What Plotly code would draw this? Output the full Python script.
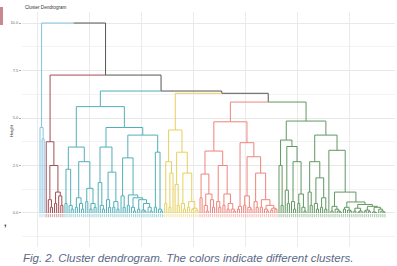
import plotly.graph_objects as go

# ---------------- data: merge structure (Newick-like, heights after ")") ----------------
cluster_keys = ["B", "R", "C", "Y", "S", "G"]
cluster_colors = {"B": "#86c3e3", "R": "#a24d55", "C": "#52afb8", "Y": "#e6d05c",
                  "S": "#ef837b", "G": "#629762", "top": "#555555"}

blue_tree = "(o,(o,o)3.9)4.5"
darkred_tree = "(o,((o,(o,o)0.3)0.7,((o,o)0.5,(o,(o,o)0.4)0.9)1.1)2.5)3.75"
cyan_left = "(((o,o)0.5,(o,(o,o)0.2)0.4)2.3,(((o,o)0.3,(o,(o,o)0.2)0.5)0.8,((o,o)0.6,((o,o)0.2,(o,o)0.3)0.5)1.3)2.7)3.47"
cyan_right = ("(((o,(o,(o,o)0.2)0.4)1.6,((o,(o,o)0.3)0.7,((o,o)0.3,(o,o)0.2)0.6)2.15)3.47,"
              "(((o,(o,o)0.3)0.9,((o,o)0.4,((o,(o,o)0.1)0.3,((o,o)0.2,((o,(o,o)0.1)0.15,(o,(o,o)0.1)0.3)0.5)0.7)0.8)0.95)2.9,"
              "((o,o)0.3,(o,(o,o)0.1)0.2)3.2)4.1)4.5")
yellow_tree = ("(((o,o)0.5,((o,o)0.3,o)2.1)2.7,"
               "((o,(o,o)0.4)1.5,((o,(o,o)0.2)0.5,((o,o)0.3,((o,o)0.2,(o,o)0.15)0.25)0.6)2.1)3.2)4.37")
salmon_left = ("(((o,o)0.8,((o,(o,o)0.1)0.4,(o,(o,o)0.3)0.7)1.0)2.05,"
               "((o,(o,o)0.3)0.6,((o,o)0.4,((o,o)0.2,(o,(o,o)0.1)0.2)0.5)1.0)2.5)3.26")
salmon_right = ("(((o,o)0.2,o)0.35,(((o,o)0.4,(o,(o,o)0.2)0.3)0.9,((o,(o,o)0.3)0.6,"
                "((o,o)0.3,((o,(o,o)0.1)0.2,((o,o)0.15,(o,o)0.2)0.25)0.4)0.7)2.1)2.96)3.7")
green_left = "((o,(o,o)0.4)2.5,((o,(o,o)0.5)1.2,((o,(o,o)0.2)0.6,((o,o)0.5,(o,(o,o)0.1)0.3)1.0)2.7)3.5)3.84"
green_mid = "((o,(o,o)0.4)1.1,((o,(o,o)0.2)0.5,((o,o)0.3,(o,o)0.2)0.8)1.85)2.7"
green_right = ("(o,(((o,o)0.1,(o,(o,(o,o)0.05)0.1)0.2)0.35,"
               "(((o,o)0.2,(o,(o,o)0.1)0.15)0.3,(((o,o)0.1,((o,o)0.05,o)0.1)0.25,"
               "(((o,o)0.1,(o,o)0.08)0.15,((o,(o,o)0.02)0.05,(o,(o,(o,o)0.05)0.1)0.2)0.3)0.35)0.45)0.58)1.1)3.3")

cluster_trees = {
    "B": blue_tree,
    "R": darkred_tree,
    "C": "(" + cyan_left + "," + cyan_right + ")5.6",
    "Y": yellow_tree,
    "S": "(" + salmon_left + "," + salmon_right + ")4.8",
    "G": "(" + green_left + ",(" + green_mid + "," + green_right + ")4.1)4.84",
}
top_tree = "(B,(R,(C,(Y,(S,G)5.84)6.3)6.42)7.26)10.0"

y_tickvals = [0, 2.5, 5, 7.5, 10]
y_ticktext = ["0.0", "2.5", "5.0", "7.5", "10.0"]


# ---------------- parse the tree ----------------
def mark(node, key):
    node["cl"] = key
    for k in node["kids"]:
        mark(k, key)


def parse(s, i=0):
    c = s[i]
    if c == "(":
        i += 1
        kids = []
        while True:
            k, i = parse(s, i)
            kids.append(k)
            if s[i] == ",":
                i += 1
            else:
                i += 1
                break
        j = i
        while j < len(s) and (s[j].isdigit() or s[j] == "."):
            j += 1
        return {"kids": kids, "h": float(s[i:j])}, j
    if c == "o":
        return {"kids": [], "h": 0.0}, i + 1
    sub, _ = parse(cluster_trees[c].replace(" ", ""), 0)
    mark(sub, c)
    return sub, i + 1


root, _ = parse(top_tree)
counter = [0]


def place(n):
    if not n["kids"]:
        counter[0] += 1
        n["x"] = counter[0]
        return
    for k in n["kids"]:
        place(k)
    n["x"] = sum(k["x"] for k in n["kids"]) / len(n["kids"])


place(root)
N = counter[0]

segs = {k: ([], []) for k in list(cluster_colors)}
leaves = {k: ([], []) for k in cluster_keys}


def walk(n):
    for k in n["kids"]:
        col = k.get("cl", "top")
        xs, ys = segs[col]
        xs += [n["x"], k["x"], k["x"], None]
        ys += [n["h"], n["h"], k["h"], None]
        if not k["kids"]:
            lx, ly = leaves[col]
            lx += [k["x"], k["x"], None]
            ly += [-0.05, -0.22, None]
        walk(k)


walk(root)

fig = go.Figure()
for key in ["top"] + cluster_keys:
    xs, ys = segs[key]
    fig.add_trace(go.Scatter(x=xs, y=ys, mode="lines", hoverinfo="skip",
                             line=dict(color=cluster_colors[key], width=1)))
for key in cluster_keys:
    xs, ys = leaves[key]
    fig.add_trace(go.Scatter(x=xs, y=ys, mode="lines", hoverinfo="skip", opacity=0.45,
                             line=dict(color=cluster_colors[key], width=1.2)))

# pixel geometry
W, H = 397, 266
L, R, T, B = 22, 2, 12, 19
s_px = 345.0 / (N - 1)
xr = [1 - 18.0 / s_px, N + 10.0 / s_px]


def px(x):
    return (x - L) / (W - L - R)


def py(y):
    return (H - B - y) / (H - T - B)


fig.update_layout(
    width=W, height=H, margin=dict(l=L, r=R, t=T, b=B),
    paper_bgcolor="white", plot_bgcolor="white", showlegend=False,
    font=dict(family="Liberation Sans, Arial, sans-serif"),
    xaxis=dict(range=xr, showgrid=True, gridcolor="#ebebeb", gridwidth=0.8, tick0=0, dtick=25,
               showticklabels=False, zeroline=False, showline=False, ticks=""),
    yaxis=dict(range=[-1.79, 10.58], tickvals=y_tickvals, ticktext=y_ticktext,
               showgrid=True, gridcolor="#e8e8e8", gridwidth=0.8, zeroline=False, showline=False,
               ticks="outside", ticklen=2, tickcolor="#aaaaaa", tickwidth=0.6,
               tickfont=dict(size=4, color="#6a6a6a"),
               minor=dict(tick0=0, dtick=1.25, showgrid=True, gridcolor="#f3f3f3", gridwidth=0.6)),
)

fig.add_annotation(text="Cluster Dendrogram", x=px(23), y=py(7), xref="paper", yref="paper",
                   xanchor="left", yanchor="middle", showarrow=False,
                   font=dict(size=4.6, color="#333333"))
fig.add_annotation(text="Height", x=px(11), y=py(131), xref="paper", yref="paper",
                   xanchor="center", yanchor="middle", textangle=-90, showarrow=False,
                   font=dict(size=4.2, color="#333333"))
fig.add_annotation(text="<i>Fig. 2. Cluster dendrogram. The colors indicate different clusters.</i>",
                   x=px(21), y=py(258), xref="paper", yref="paper",
                   xanchor="left", yanchor="middle", showarrow=False,
                   font=dict(size=11.5, color="#5a6987"))
fig.add_annotation(text="<b>,</b>", x=px(5), y=py(223), xref="paper", yref="paper",
                   xanchor="center", yanchor="middle", showarrow=False,
                   font=dict(size=9, color="#333333"))
fig.add_shape(type="rect", xref="paper", yref="paper", x0=px(0), x1=px(3), y0=py(25), y1=py(7),
              line=dict(width=0), fillcolor="#c98890")

fig.write_html("out.html", config={"displayModeBar": False},
               post_script="document.body.style.margin='0';document.body.style.overflow='hidden';")
